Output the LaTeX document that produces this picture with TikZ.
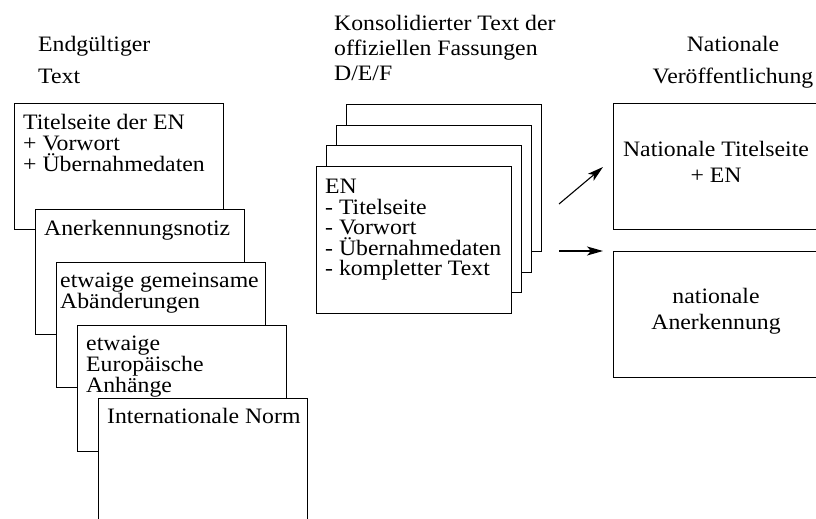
\documentclass[tikz,border=0pt]{standalone}
\usepackage{fontspec}
\setmainfont[FakeStretch=1.08]{Liberation Serif}
\usetikzlibrary{arrows.meta}
\tikzset{
  page/.style={draw, line width=1.4pt, fill=white, inner sep=0pt, anchor=north west},
  lbl/.style={inner sep=0pt, anchor=base west, font=\fontsize{22}{26}\selectfont},
  clbl/.style={inner sep=0pt, anchor=base, font=\fontsize{22}{26}\selectfont},
  arr/.style={line width=1.1pt, -{Stealth[length=16pt,width=9pt,inset=4pt]}}
}
\begin{document}
\begin{tikzpicture}[x=1pt,y=-1pt]
\useasboundingbox (0,0) rectangle (816,519);
\clip (0,0) rectangle (816,519);
\fill[white] (0,0) rectangle (816,519);
% left stack
\node[page, minimum width=209pt, minimum height=126pt] (b1) at (14,103) {};
\node[page, minimum width=209pt, minimum height=125pt] (b2) at (35,209) {};
\node[page, minimum width=209pt, minimum height=125pt] (b3) at (56,262) {};
\node[page, minimum width=209pt, minimum height=126pt] (b4) at (77,325) {};
\node[page, minimum width=209pt, minimum height=140pt] (b5) at (98,398) {};
% middle stack
\node[page, minimum width=195pt, minimum height=147pt] (m4) at (346,104) {};
\node[page, minimum width=195pt, minimum height=147pt] (m3) at (336,125) {};
\node[page, minimum width=195pt, minimum height=147pt] (m2) at (326,145) {};
\node[page, minimum width=195pt, minimum height=147pt] (m1) at (316,166) {};
% right boxes
\node[page, minimum width=230pt, minimum height=126pt] (r1) at (613,103) {};
\node[page, minimum width=230pt, minimum height=126pt] (r2) at (613,251) {};
% headers
\node[lbl] (h1a) at (38,52) {Endgültiger};
\node[lbl] (h1b) at (38,83) {Text};
\node[lbl] (h2a) at (334,31) {Konsolidierter Text der};
\node[lbl] (h2b) at (334,56) {offiziellen Fassungen};
\node[lbl] (h2c) at (334,80) {D/E/F};
\node[clbl] (h3a) at (733,52) {Nationale};
\node[clbl] (h3b) at (733,83) {Veröffentlichung};
% left stack texts
\node[lbl] (t1a) at (23,129) {Titelseite der EN};
\node[lbl] (t1b) at (23,150) {+ Vorwort};
\node[lbl] (t1c) at (23,171) {+ Übernahmedaten};
\node[lbl] (t2a) at (44,235) {Anerkennungsnotiz};
\node[lbl] (t3a) at (60,287) {etwaige gemeinsame};
\node[lbl] (t3b) at (60,308) {Abänderungen};
\node[lbl] (t4a) at (86,350) {etwaige};
\node[lbl] (t4b) at (86,371) {Europäische};
\node[lbl] (t4c) at (86,392) {Anhänge};
\node[lbl] (t5a) at (107,423) {Internationale Norm};
% middle texts
\node[lbl] (ma) at (325,193) {EN};
\node[lbl] (mb) at (325,214) {- Titelseite};
\node[lbl] (mc) at (325,234) {- Vorwort};
\node[lbl] (md) at (325,255) {- Übernahmedaten};
\node[lbl] (me) at (325,275) {- kompletter Text};
% right texts
\node[clbl] (ra) at (716,156) {Nationale Titelseite};
\node[clbl] (rb) at (716,182) {+ EN};
\node[clbl] (rc) at (716,303) {nationale};
\node[clbl] (rd) at (716,329) {Anerkennung};
% arrows
\coordinate (a1s) at (559,204);
\coordinate (a1e) at (603,167);
\coordinate (a2s) at (559,251);
\coordinate (a2e) at (603,251);
\draw[arr] (a1s) -- (a1e);
\draw[arr] (a2s) -- (a2e);
\end{tikzpicture}
\end{document}
